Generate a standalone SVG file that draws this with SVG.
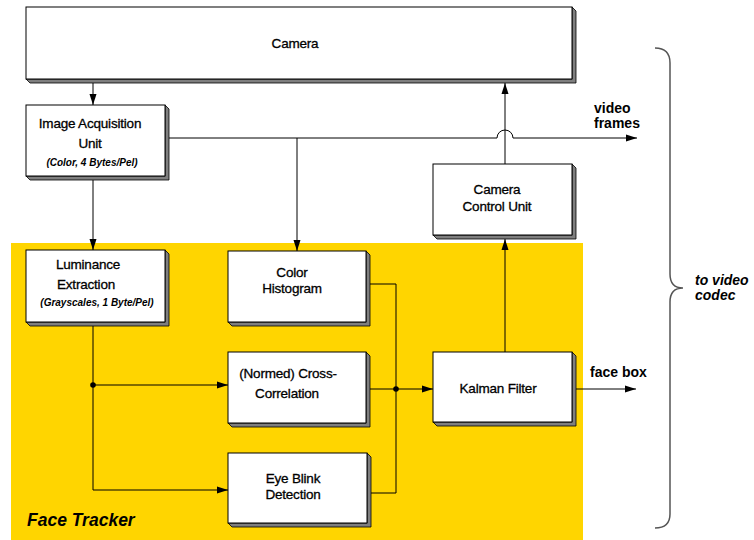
<svg xmlns="http://www.w3.org/2000/svg" width="754" height="540" viewBox="0 0 754 540">
<defs>
<style>
.box{fill:#fff;stroke:#000;stroke-width:1}
.sh{fill:#7f7f7f;stroke:#000;stroke-width:0.8}
.lbl{font-family:"Liberation Sans",Arial,sans-serif;font-size:13.5px;fill:#000;stroke:#000;stroke-width:0.3;text-anchor:middle;letter-spacing:-0.2px}
.sub{font-family:"Liberation Sans",Arial,sans-serif;font-size:10px;font-weight:bold;font-style:italic;fill:#000;text-anchor:middle}
.out{font-family:"Liberation Sans",Arial,sans-serif;font-size:14px;font-weight:bold;fill:#000}
.bi{font-family:"Liberation Sans",Arial,sans-serif;font-weight:bold;font-style:italic;fill:#000}
.ln{fill:none;stroke:#000;stroke-width:1}
.arr{fill:none;stroke:#000;stroke-width:1;marker-end:url(#ah)}
</style>
<marker id="ah" markerUnits="userSpaceOnUse" markerWidth="11" markerHeight="8" refX="11" refY="4" orient="auto">
<path d="M0,0.5 L11,4 L0,7.5 z" fill="#000"/>
</marker>
</defs>
<rect width="754" height="540" fill="#fff"/>
<rect id="face-tracker-area" x="11" y="243" width="572" height="297" fill="#FFD500"/>
<text class="bi" x="27" y="526" font-size="17.5">Face Tracker</text>

<g id="connectors">
<line class="arr" x1="93" y1="83" x2="93" y2="105"/>
<line class="arr" x1="93" y1="180" x2="93" y2="250"/>
<path class="arr" d="M165,138 L497,138 A8,8 0 0 1 513,138 L637,138"/>
<line class="arr" x1="297" y1="138" x2="297" y2="251"/>
<line class="arr" x1="505" y1="164" x2="505" y2="83"/>
<line class="arr" x1="505" y1="352" x2="505" y2="239"/>
<path class="arr" d="M93,326 L93,490 L228,490"/>
<line class="arr" x1="93" y1="385" x2="228" y2="385"/>
<circle cx="93" cy="385" r="2.8" fill="#000"/>
<path class="ln" d="M370,284 L396,284 L396,493 L371,493"/>
<line class="arr" x1="370" y1="389" x2="433" y2="389"/>
<circle cx="396" cy="389" r="2.8" fill="#000"/>
<line class="arr" x1="576" y1="389" x2="636" y2="389"/>
<path d="M655,48 Q670,48 670,63 L670,274 Q670,288 683,288 Q670,288 670,302 L670,514 Q670,528 655,528" fill="none" stroke="#555" stroke-width="1.5"/>
</g>

<g id="camera">
<polygon class="sh" points="572,7 576,11 576,83 30,83 26,79 572,79"/>
<rect class="box" x="26" y="7" width="546" height="72"/>
<text class="lbl" x="295" y="48">Camera</text>
</g>
<g id="image-acquisition">
<polygon class="sh" points="165,105 169,109 169,180 30,180 26,176 165,176"/>
<rect class="box" x="26" y="105" width="139" height="71"/>
<text class="lbl" x="90" y="128">Image Acquisition</text>
<text class="lbl" x="90" y="148">Unit</text>
<text class="sub" x="92" y="166">(Color, 4 Bytes/Pel)</text>
</g>
<g id="luminance">
<polygon class="sh" points="165,250 169,254 169,326 30,326 26,322 165,322"/>
<rect class="box" x="26" y="250" width="139" height="72"/>
<text class="lbl" x="88" y="269">Luminance</text>
<text class="lbl" x="86" y="289">Extraction</text>
<text class="sub" x="97" y="306">(Grayscales, 1 Byte/Pel)</text>
</g>
<g id="color-histogram">
<polygon class="sh" points="366,251 370,255 370,326 232,326 228,322 366,322"/>
<rect class="box" x="228" y="251" width="138" height="71"/>
<text class="lbl" x="292" y="277">Color</text>
<text class="lbl" x="292" y="293">Histogram</text>
</g>
<g id="cross-correlation">
<polygon class="sh" points="366,352 370,356 370,427 232,427 228,423 366,423"/>
<rect class="box" x="228" y="352" width="138" height="71"/>
<text class="lbl" x="288" y="378">(Normed) Cross-</text>
<text class="lbl" x="287" y="398">Correlation</text>
</g>
<g id="eye-blink">
<polygon class="sh" points="367,453 371,457 371,527 232,527 228,523 367,523"/>
<rect class="box" x="228" y="453" width="139" height="70"/>
<text class="lbl" x="293" y="483">Eye Blink</text>
<text class="lbl" x="293" y="499">Detection</text>
</g>
<g id="camera-control">
<polygon class="sh" points="572,164 576,168 576,239 437,239 433,235 572,235"/>
<rect class="box" x="433" y="164" width="139" height="71"/>
<text class="lbl" x="497" y="194">Camera</text>
<text class="lbl" x="497" y="211">Control Unit</text>
</g>
<g id="kalman">
<polygon class="sh" points="572,352 576,356 576,426 437,426 433,422 572,422"/>
<rect class="box" x="433" y="352" width="139" height="70"/>
<text class="lbl" x="498" y="393">Kalman Filter</text>
</g>

<text class="out" x="594" y="113">video</text>
<text class="out" x="594" y="128">frames</text>
<text class="out" x="590" y="377">face box</text>
<text class="bi" x="695" y="285" font-size="14">to video</text>
<text class="bi" x="695" y="300" font-size="14">codec</text>
</svg>
